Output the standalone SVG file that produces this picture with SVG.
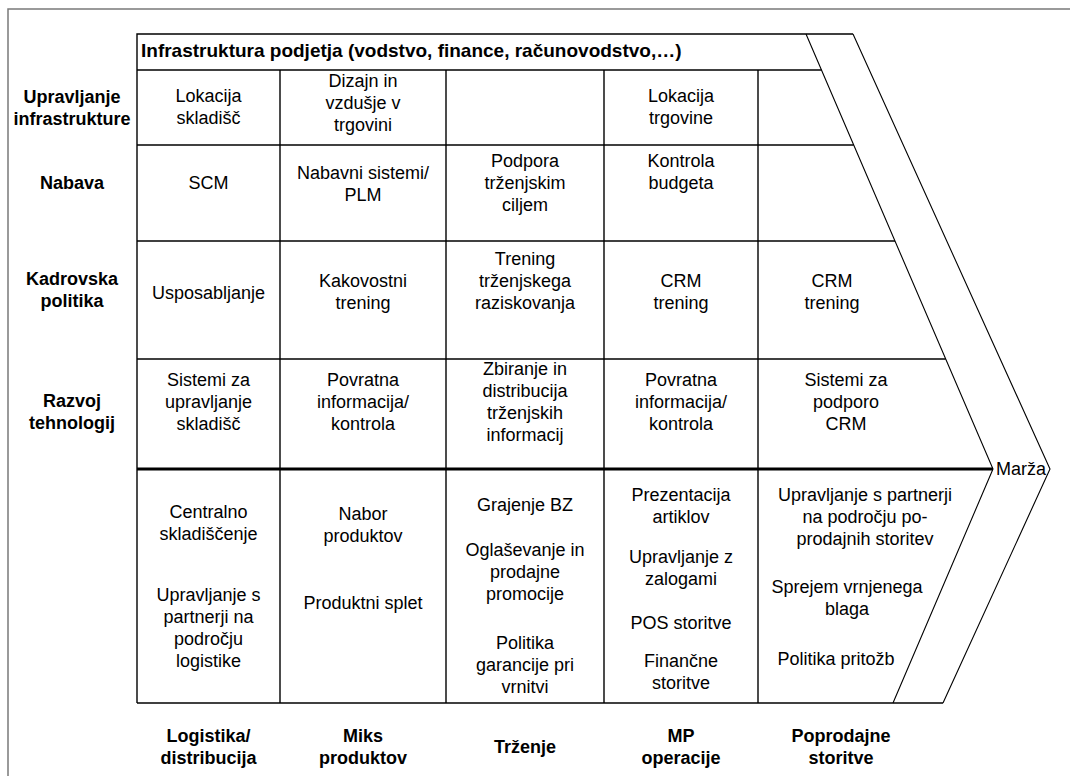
<svg xmlns="http://www.w3.org/2000/svg" width="1070" height="776" viewBox="0 0 1070 776">
  <style>
    .frame { fill: none; stroke: #7a7a7a; stroke-width: 1.5; }
    .line { fill: none; stroke: #000; stroke-width: 1.4; }
    .thin { fill: none; stroke: #000; stroke-width: 1.1; }
    .thick { fill: none; stroke: #000; stroke-width: 3; }
    text { font-family: "Liberation Sans", Arial, sans-serif; font-size: 18px; fill: #000; }
    .c { text-anchor: middle; }
    .b { font-weight: bold; }
    .head { font-size: 19px; }
  </style>

  <rect x="0" y="0" width="1070" height="776" fill="#fff"/>

  <!-- outer frame -->
  <path class="frame" d="M8,776 V9 H1070"/>

  <!-- grid and chevron outline -->
  <g id="connectors">
    <path class="line" d="M137,703 V34 H853"/>
    <path class="thin" d="M806,34 L993,469 L893,703"/>
    <path class="thin" d="M853,34 L1050,469 L943,703"/>
    <path class="line" d="M137,703 H943"/>
    <path class="line" d="M137,70 H821.5"/>
    <path class="line" d="M137,145 H853.7"/>
    <path class="line" d="M137,241 H895"/>
    <path class="line" d="M137,359 H945.7"/>
    <path class="thick" d="M137,469 H993"/>
    <path class="line" d="M280,70 V703 M446,70 V703 M604,70 V703 M758,70 V703"/>
  </g>

  <!-- header band -->
  <g id="infrastruktura">
    <text class="b head" x="141" y="57">Infrastruktura podjetja (vodstvo, finance, računovodstvo,…)</text>
  </g>

  <!-- support activity labels -->
  <g id="lbl-upravljanje">
    <text class="b c" x="72" y="103">Upravljanje<tspan x="72" dy="22">infrastrukture</tspan></text>
  </g>
  <g id="lbl-nabava">
    <text class="b c" x="72" y="189">Nabava</text>
  </g>
  <g id="lbl-kadrovska">
    <text class="b c" x="72" y="285">Kadrovska<tspan x="72" dy="22">politika</tspan></text>
  </g>
  <g id="lbl-razvoj">
    <text class="b c" x="72" y="407">Razvoj<tspan x="72" dy="22">tehnologij</tspan></text>
  </g>

  <!-- row: upravljanje infrastrukture -->
  <g id="r1c1"><text class="c" x="208.5" y="102">Lokacija<tspan x="208.5" dy="22">skladišč</tspan></text></g>
  <g id="r1c2"><text class="c" x="363" y="87">Dizajn in<tspan x="363" dy="22">vzdušje v</tspan><tspan x="363" dy="22">trgovini</tspan></text></g>
  <g id="r1c4"><text class="c" x="681" y="102">Lokacija<tspan x="681" dy="22">trgovine</tspan></text></g>

  <!-- row: nabava -->
  <g id="r2c1"><text class="c" x="208.5" y="189">SCM</text></g>
  <g id="r2c2"><text class="c" x="363" y="179">Nabavni sistemi/<tspan x="363" dy="22">PLM</tspan></text></g>
  <g id="r2c3"><text class="c" x="525" y="167">Podpora<tspan x="525" dy="22">trženjskim</tspan><tspan x="525" dy="22">ciljem</tspan></text></g>
  <g id="r2c4"><text class="c" x="681" y="167">Kontrola<tspan x="681" dy="22">budgeta</tspan></text></g>

  <!-- row: kadrovska politika -->
  <g id="r3c1"><text class="c" x="208.5" y="299">Usposabljanje</text></g>
  <g id="r3c2"><text class="c" x="363" y="287">Kakovostni<tspan x="363" dy="22">trening</tspan></text></g>
  <g id="r3c3"><text class="c" x="525" y="265">Trening<tspan x="525" dy="22">trženjskega</tspan><tspan x="525" dy="22">raziskovanja</tspan></text></g>
  <g id="r3c4"><text class="c" x="681" y="287">CRM<tspan x="681" dy="22">trening</tspan></text></g>
  <g id="r3c5"><text class="c" x="832" y="287">CRM<tspan x="832" dy="22">trening</tspan></text></g>

  <!-- row: razvoj tehnologij -->
  <g id="r4c1"><text class="c" x="208.5" y="386">Sistemi za<tspan x="208.5" dy="22">upravljanje</tspan><tspan x="208.5" dy="22">skladišč</tspan></text></g>
  <g id="r4c2"><text class="c" x="363" y="386">Povratna<tspan x="363" dy="22">informacija/</tspan><tspan x="363" dy="22">kontrola</tspan></text></g>
  <g id="r4c3"><text class="c" x="525" y="375">Zbiranje in<tspan x="525" dy="22">distribucija</tspan><tspan x="525" dy="22">trženjskih</tspan><tspan x="525" dy="22">informacij</tspan></text></g>
  <g id="r4c4"><text class="c" x="681" y="386">Povratna<tspan x="681" dy="22">informacija/</tspan><tspan x="681" dy="22">kontrola</tspan></text></g>
  <g id="r4c5"><text class="c" x="846" y="386">Sistemi za<tspan x="846" dy="22">podporo</tspan><tspan x="846" dy="22">CRM</tspan></text></g>

  <!-- primary activities -->
  <g id="p1">
    <text class="c" x="208.5" y="518">Centralno<tspan x="208.5" dy="22">skladiščenje</tspan></text>
    <text class="c" x="208.5" y="601">Upravljanje s<tspan x="208.5" dy="22">partnerji na</tspan><tspan x="208.5" dy="22">področju</tspan><tspan x="208.5" dy="22">logistike</tspan></text>
  </g>
  <g id="p2">
    <text class="c" x="363" y="520">Nabor<tspan x="363" dy="22">produktov</tspan></text>
    <text class="c" x="363" y="609">Produktni splet</text>
  </g>
  <g id="p3">
    <text class="c" x="525" y="511">Grajenje BZ</text>
    <text class="c" x="525" y="556">Oglaševanje in<tspan x="525" dy="22">prodajne</tspan><tspan x="525" dy="22">promocije</tspan></text>
    <text class="c" x="525" y="649">Politika<tspan x="525" dy="22">garancije pri</tspan><tspan x="525" dy="22">vrnitvi</tspan></text>
  </g>
  <g id="p4">
    <text class="c" x="681" y="501">Prezentacija<tspan x="681" dy="22">artiklov</tspan></text>
    <text class="c" x="681" y="563">Upravljanje z<tspan x="681" dy="22">zalogami</tspan></text>
    <text class="c" x="681" y="629">POS storitve</text>
    <text class="c" x="681" y="667">Finančne<tspan x="681" dy="22">storitve</tspan></text>
  </g>
  <g id="p5">
    <text class="c" x="865" y="501">Upravljanje s partnerji<tspan x="865" dy="22">na področju po-</tspan><tspan x="865" dy="22">prodajnih storitev</tspan></text>
    <text class="c" x="847" y="593">Sprejem vrnjenega<tspan x="847" dy="22">blaga</tspan></text>
    <text class="c" x="836" y="665">Politika pritožb</text>
  </g>

  <!-- margin label at chevron tip -->
  <g id="marza">
    <text x="996" y="475">Marža</text>
  </g>

  <!-- primary activity captions -->
  <g id="cap1"><text class="b c" x="208.5" y="742">Logistika/<tspan x="208.5" dy="22">distribucija</tspan></text></g>
  <g id="cap2"><text class="b c" x="363" y="742">Miks<tspan x="363" dy="22">produktov</tspan></text></g>
  <g id="cap3"><text class="b c" x="525" y="753">Trženje</text></g>
  <g id="cap4"><text class="b c" x="681" y="742">MP<tspan x="681" dy="22">operacije</tspan></text></g>
  <g id="cap5"><text class="b c" x="841" y="742">Poprodajne<tspan x="841" dy="22">storitve</tspan></text></g>
</svg>
